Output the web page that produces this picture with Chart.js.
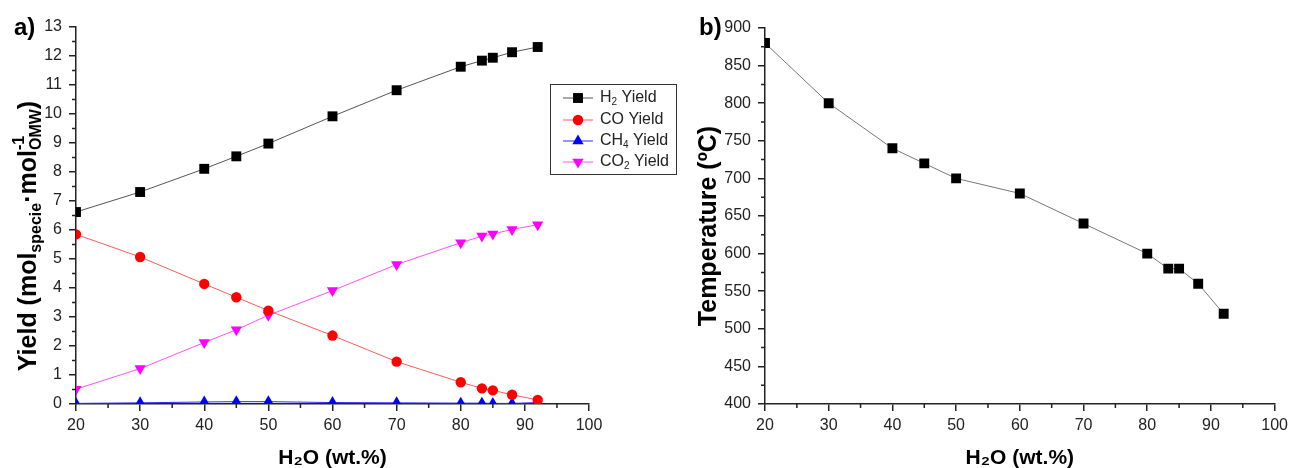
<!DOCTYPE html>
<html>
<head>
<meta charset="utf-8">
<script src="https://cdn.jsdelivr.net/npm/chart.js@4.4.1/dist/chart.umd.min.js"></script>
<style>
  html, body { margin: 0; padding: 0; background: #fff; }
  #wrap { position: relative; width: 1293px; height: 468px; background: #fff; }
  #wrap canvas { position: absolute; top: 0; }
  #chartA { left: 0; }
  #chartB { left: 690px; }
</style>
</head>
<body>
<div id="wrap">
  <canvas id="chartA" width="690" height="468"></canvas>
  <canvas id="chartB" width="603" height="468"></canvas>
</div>
<script>
// water content of the feed (wt.%), same for both panels
const waterContent = [20, 30, 40, 45, 50, 60, 70, 80, 83.3, 85, 88, 92];

// panel a) yields (mol specie / mol OMW)
const h2Yield  = [6.62, 7.31, 8.11, 8.54, 8.98, 9.92, 10.82, 11.63, 11.84, 11.94, 12.13, 12.31];
const coYield  = [5.85, 5.07, 4.14, 3.68, 3.22, 2.36, 1.46, 0.75, 0.54, 0.47, 0.32, 0.14];
const ch4Yield = [0.02, 0.04, 0.07, 0.08, 0.08, 0.05, 0.04, 0.03, 0.03, 0.02, 0.02, 0.05];
const co2Yield = [0.51, 1.22, 2.12, 2.56, 3.06, 3.91, 4.81, 5.56, 5.79, 5.86, 6.02, 6.18];

// panel b) temperature (ºC)
const temperature = [880, 800, 740, 720, 700, 680, 640, 600, 580, 580, 560, 520];

// minor ticks, the major ones come from stepSize
const xMinor  = [25, 35, 45, 55, 65, 75, 85, 95];
const yMinorA = [0.5, 1.5, 2.5, 3.5, 4.5, 5.5, 6.5, 7.5, 8.5, 9.5, 10.5, 11.5, 12.5];
const yMinorB = [425, 475, 525, 575, 625, 675, 725, 775, 825, 875];

const FONT = '"Liberation Sans", Arial, sans-serif';
Chart.defaults.font.family = FONT;
Chart.defaults.color = '#222';

const toXY = ys => ys.map((y, i) => ({ x: waterContent[i], y: y }));

// small outward ticks between the labelled ones
const minorTicks = {
  id: 'minorTicks',
  afterDraw(chart, args, opts) {
    const ctx = chart.ctx;
    const { x, y } = chart.scales;
    ctx.save();
    ctx.strokeStyle = '#222';
    ctx.lineWidth = 1.5;
    ctx.beginPath();
    opts.x.forEach(v => {
      const px = x.getPixelForValue(v);
      ctx.moveTo(px, x.top);
      ctx.lineTo(px, x.top + 4);
    });
    opts.y.forEach(v => {
      const py = y.getPixelForValue(v);
      ctx.moveTo(y.right, py);
      ctx.lineTo(y.right - 4, py);
    });
    ctx.stroke();
    ctx.restore();
  }
};

// "a)" / "b)"
const panelLabel = {
  id: 'panelLabel',
  afterDraw(chart, args, opts) {
    const ctx = chart.ctx;
    ctx.save();
    ctx.font = 'bold 24px ' + FONT;
    ctx.fillStyle = '#000';
    ctx.textBaseline = 'alphabetic';
    ctx.fillText(opts.text, opts.x, opts.y);
    ctx.restore();
  }
};

// draw a run of text pieces with sub/superscripts
function richWidth(ctx, parts) {
  let w = 0;
  parts.forEach(p => {
    if (p.stack) {
      w += Math.max(...p.stack.map(s => { ctx.font = s.f; return ctx.measureText(s.t).width; }));
    } else {
      ctx.font = p.f;
      w += ctx.measureText(p.t).width;
    }
  });
  return w;
}
function richDraw(ctx, parts, x, y) {
  parts.forEach(p => {
    if (p.stack) {
      let w = 0;
      p.stack.forEach(s => {
        ctx.font = s.f;
        ctx.fillText(s.t, x, y + s.dy);
        w = Math.max(w, ctx.measureText(s.t).width);
      });
      x += w;
    } else {
      ctx.font = p.f;
      ctx.fillText(p.t, x, y + p.dy);
      x += ctx.measureText(p.t).width;
    }
  });
}

const BIG = 'bold 25px ' + FONT;
const SMALL = 'bold 16px ' + FONT;

// rotated y titles, drawn by hand because of the sub/superscripts
const yTitle = {
  id: 'yTitle',
  afterDraw(chart, args, opts) {
    const ctx = chart.ctx;
    ctx.save();
    ctx.fillStyle = '#000';
    ctx.textBaseline = 'alphabetic';
    const w = richWidth(ctx, opts.parts);
    ctx.translate(opts.x, opts.y);
    ctx.rotate(-Math.PI / 2);
    richDraw(ctx, opts.parts, -w / 2, 0);
    ctx.restore();
  }
};

function marker(ctx, style, x, y, r, color, rot) {
  ctx.fillStyle = color;
  ctx.beginPath();
  if (style === 'rect') {
    const s = r * Math.SQRT1_2;
    ctx.rect(x - s, y - s, 2 * s, 2 * s);
  } else if (style === 'circle') {
    ctx.arc(x, y, r, 0, Math.PI * 2);
  } else {
    const d = rot ? -1 : 1;
    ctx.moveTo(x, y - d * r);
    ctx.lineTo(x + r * 0.866, y + d * r / 2);
    ctx.lineTo(x - r * 0.866, y + d * r / 2);
    ctx.closePath();
  }
  ctx.fill();
}

// legend box of panel a), pokes out of the plot area on the right
const yieldLegend = {
  id: 'yieldLegend',
  afterDraw(chart, args, opts) {
    const ctx = chart.ctx;
    const big = '16px ' + FONT;
    const small = '10px ' + FONT;
    ctx.save();
    ctx.fillStyle = '#fff';
    ctx.fillRect(550.5, 84.5, 126, 90);
    ctx.strokeStyle = '#333';
    ctx.lineWidth = 1;
    ctx.strokeRect(550.5, 84.5, 126, 90);
    const rowY = [98, 120, 141, 162];
    chart.data.datasets.forEach((ds, i) => {
      const yy = rowY[i];
      ctx.strokeStyle = ds.borderColor;
      ctx.lineWidth = 1;
      ctx.beginPath();
      ctx.moveTo(563, yy);
      ctx.lineTo(593, yy);
      ctx.stroke();
      marker(ctx, ds.pointStyle, 578, yy, ds.pointRadius, ds.pointBackgroundColor, ds.pointRotation);
      ctx.fillStyle = '#222';
      ctx.textBaseline = 'middle';
      richDraw(ctx, opts.labels[i].map(p => ({ t: p[0], f: p[1] ? small : big, dy: p[1] ? 4 : 0 })), 600, yy);
    });
    ctx.restore();
  }
};

function xAxis() {
  return {
    type: 'linear',
    min: 20, max: 100,
    ticks: { stepSize: 10, padding: 5, font: { size: 16 }, color: '#222' },
    grid: { drawOnChartArea: false, drawTicks: true, tickLength: 7, color: '#222', lineWidth: 1.5 },
    border: { display: true, color: '#222', width: 1.5 },
    title: { display: true, text: 'H₂O (wt.%)', font: { size: 21, weight: 'bold' }, color: '#000', padding: { top: 0, bottom: -3 } },
    afterFit(scale) { scale.height = 64; }
  };
}

new Chart(document.getElementById('chartA'), {
  type: 'line',
  data: {
    datasets: [
      { label: 'H2 Yield', data: toXY(h2Yield), borderColor: '#555', borderWidth: 1,
        pointStyle: 'rect', pointRadius: 7, pointBackgroundColor: '#000', pointBorderColor: '#000', pointBorderWidth: 0 },
      { label: 'CO Yield', data: toXY(coYield), borderColor: '#ff5a5a', borderWidth: 1,
        pointStyle: 'circle', pointRadius: 5.2, pointBackgroundColor: '#ff0000', pointBorderColor: '#ff0000', pointBorderWidth: 0 },
      { label: 'CH4 Yield', data: toXY(ch4Yield), borderColor: '#2a2aff', borderWidth: 1,
        pointStyle: 'triangle', pointRadius: 6.5, pointBackgroundColor: '#0000ff', pointBorderColor: '#0000ff', pointBorderWidth: 0 },
      { label: 'CO2 Yield', data: toXY(co2Yield), borderColor: '#ff50ff', borderWidth: 1,
        pointStyle: 'triangle', pointRotation: 180, pointRadius: 6.5, pointBackgroundColor: '#ff00ff', pointBorderColor: '#ff00ff', pointBorderWidth: 0 }
    ]
  },
  options: {
    responsive: false,
    animation: false,
    events: [],
    layout: { padding: { left: 0, top: 27, right: 101, bottom: 0 } },
    elements: { line: { tension: 0 } },
    scales: {
      x: xAxis(),
      y: {
        type: 'linear',
        min: 0, max: 13,
        ticks: { stepSize: 1, padding: 7, font: { size: 16 }, color: '#222' },
        grid: { drawOnChartArea: false, drawTicks: true, tickLength: 7, color: '#222', lineWidth: 1.5 },
        border: { display: true, color: '#222', width: 1.5 },
        afterFit(scale) { scale.width = 76; }
      }
    },
    plugins: {
      legend: { display: false },
      tooltip: { enabled: false },
      minorTicks: { x: xMinor, y: yMinorA },
      panelLabel: { text: 'a)', x: 14, y: 35 },
      yTitle: {
        x: 36, y: 236,
        parts: [
          { t: 'Yield (mol', f: BIG, dy: 0 },
          { t: 'specie', f: SMALL, dy: 5 },
          { t: '·mol', f: BIG, dy: 0 },
          { stack: [{ t: '-1', f: SMALL, dy: -12 }, { t: 'OMW', f: SMALL, dy: 5 }] },
          { t: ')', f: BIG, dy: 0 }
        ]
      },
      yieldLegend: {
        labels: [
          [['H', 0], ['2', 1], [' Yield', 0]],
          [['CO Yield', 0]],
          [['CH', 0], ['4', 1], [' Yield', 0]],
          [['CO', 0], ['2', 1], [' Yield', 0]]
        ]
      }
    }
  },
  plugins: [minorTicks, panelLabel, yTitle, yieldLegend]
});

new Chart(document.getElementById('chartB'), {
  type: 'line',
  data: {
    datasets: [
      { label: 'Temperature', data: toXY(temperature), borderColor: '#777', borderWidth: 1,
        pointStyle: 'rect', pointRadius: 7, pointBackgroundColor: '#000', pointBorderColor: '#000', pointBorderWidth: 0 }
    ]
  },
  options: {
    responsive: false,
    animation: false,
    events: [],
    layout: { padding: { left: 0, top: 28, right: 15, bottom: 0 } },
    elements: { line: { tension: 0 } },
    scales: {
      x: xAxis(),
      y: {
        type: 'linear',
        min: 400, max: 900,
        ticks: { stepSize: 50, padding: 7, font: { size: 16 }, color: '#222' },
        grid: { drawOnChartArea: false, drawTicks: true, tickLength: 7, color: '#222', lineWidth: 1.5 },
        border: { display: true, color: '#222', width: 1.5 },
        afterFit(scale) { scale.width = 75; }
      }
    },
    plugins: {
      legend: { display: false },
      tooltip: { enabled: false },
      minorTicks: { x: xMinor, y: yMinorB },
      panelLabel: { text: 'b)', x: 9, y: 35 },
      yTitle: { x: 26, y: 226, parts: [{ t: 'Temperature (ºC)', f: BIG, dy: 0 }] }
    }
  },
  plugins: [minorTicks, panelLabel, yTitle]
});
</script>
</body>
</html>
